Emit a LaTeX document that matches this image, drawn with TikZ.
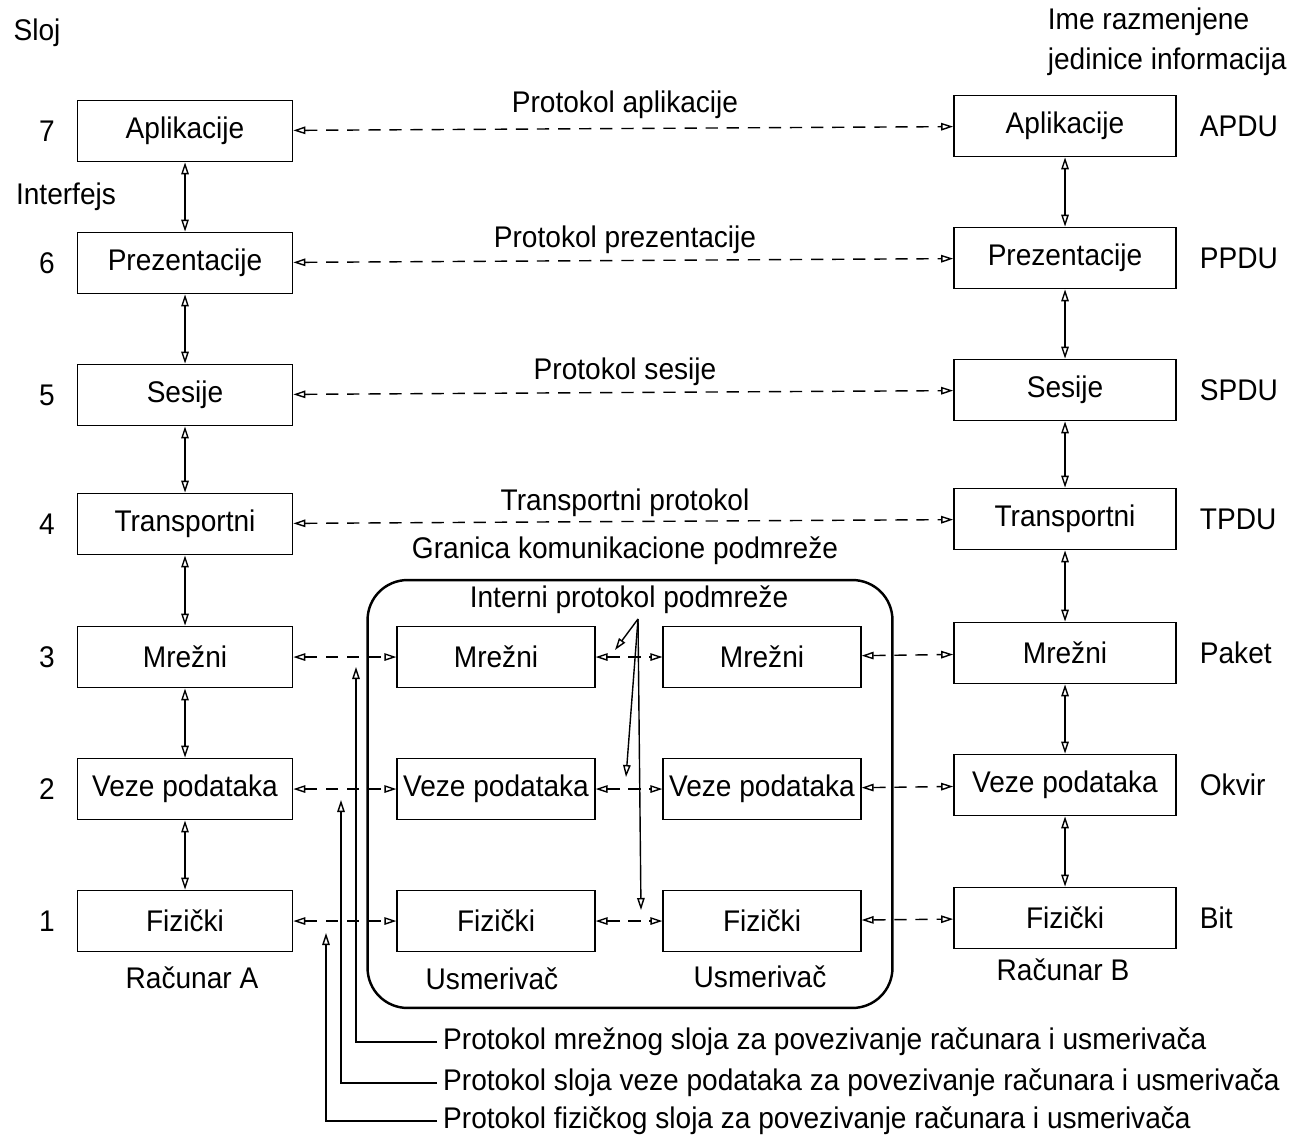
\documentclass[tikz,border=0pt]{standalone}
\usepackage{fontspec}
\setmainfont{Liberation Sans}[FakeStretch=0.94]
\usepackage{tikz}
\usetikzlibrary{positioning,arrows.meta}

\begin{document}
\begin{tikzpicture}[
    x=0.02cm, y=-0.02cm,
    font=\fontsize{17}{23}\selectfont,
    >={Triangle[open,length=2.4mm,width=1.5mm]},
    box/.style={draw,line width=1pt,minimum height=1.22cm,inner sep=0pt},
    hostA/.style={box,minimum width=4.3cm},
    hostB/.style={box,minimum width=4.44cm},
    router/.style={box,minimum width=3.95cm},
    iface/.style={<->,line width=0.8pt},
    peer/.style={<->,line width=0.8pt,dash pattern=on 7pt off 5pt},
    lead/.style={->,line width=0.8pt},
    lbl/.style={inner sep=2pt}
  ]
    \useasboundingbox (0,0) rectangle (1308,1135);
    \node[lbl] (sloj) at (37,33) {Sloj};
    \node[lbl] (ifc) at (66,197) {Interfejs};
    \node[lbl,anchor=west,align=left] (ime) at (1044,42) {Ime razmenjene\\jedinice informacija};
    \foreach \n/\name/\ya/\yb/\pdu in {7/Aplikacije/131/126/APDU,6/Prezentacije/263/258/PPDU,
        5/Sesije/395/390/SPDU,4/Transportni/524/519/TPDU,3/Mrežni/657/653/Paket,
        2/Veze podataka/789/785/Okvir,1/Fizički/921/918/Bit} {
      \node[hostA] (a\n) at (185,\ya) {\name};
      \node[hostB] (b\n) at (1065,\yb) {\name};
      \node[lbl] (k\n) at (47,\ya) {\n};
      \node[lbl,anchor=west] (u\n) at (1196,\yb) {\pdu};
    }
    \foreach \n/\name/\y in {3/Mrežni/657,2/Veze podataka/789,1/Fizički/921} {
      \node[router] (r\n) at (496,\y) {\name};
      \node[router] (s\n) at (762,\y) {\name};
    }
    \node[draw,line width=1.4pt,rounded corners=0.8cm,minimum width=10.5cm,minimum height=8.56cm] (subnet) at (630,794) {};
    \node[lbl] (racA) at (192,978) {Računar A};
    \node[lbl] (racB) at (1063,970) {Računar B};
    \node[lbl] (usm1) at (492,979) {Usmerivač};
    \node[lbl] (usm2) at (760,977) {Usmerivač};
    \node[lbl] (gran) at (625,551) {Granica komunikacione podmreže};
    \node[lbl] (intp) at (629,600) {Interni protokol podmreže};
    \node[lbl] (p7) at (625,105) {Protokol aplikacije};
    \node[lbl] (p6) at (625,240) {Protokol prezentacije};
    \node[lbl] (p5) at (625,372) {Protokol sesije};
    \node[lbl] (p4) at (625,503) {Transportni protokol};
    \node[anchor=west] (nt3) at (437,1042) {Protokol mrežnog sloja za povezivanje računara i usmerivača};
    \node[anchor=west] (nt2) at (437,1083) {Protokol sloja veze podataka za povezivanje računara i usmerivača};
    \node[anchor=west] (nt1) at (437,1121) {Protokol fizičkog sloja za povezivanje računara i usmerivača};
    \foreach \i/\j in {7/6,6/5,5/4,4/3,3/2,2/1} {
      \draw[iface] (a\i) -- (a\j);
      \draw[iface] (b\i) -- (b\j);
    }
    \foreach \n in {7,6,5,4}
      \draw[peer] (a\n) -- (b\n);
    \foreach \n in {3,2,1} {
      \draw[peer] (a\n) -- (r\n);
      \draw[peer] (r\n) -- (s\n);
      \draw[peer] (s\n) -- (b\n);
    }
    \coordinate (ip) at (638,619);
    \coordinate (ip3) at (615,650);
    \coordinate (ip2) at (626,777);
    \coordinate (ip1) at (641,910);
    \foreach \t in {ip3,ip2,ip1}
      \draw[lead] (ip) -- (\t);
    \coordinate (t3) at (356,667);
    \coordinate (t2) at (341,800);
    \coordinate (t1) at (326,933);
    \foreach \n in {3,2,1}
      \draw[lead] (nt\n.west) -| (t\n);
  \end{tikzpicture}
\end{document}
